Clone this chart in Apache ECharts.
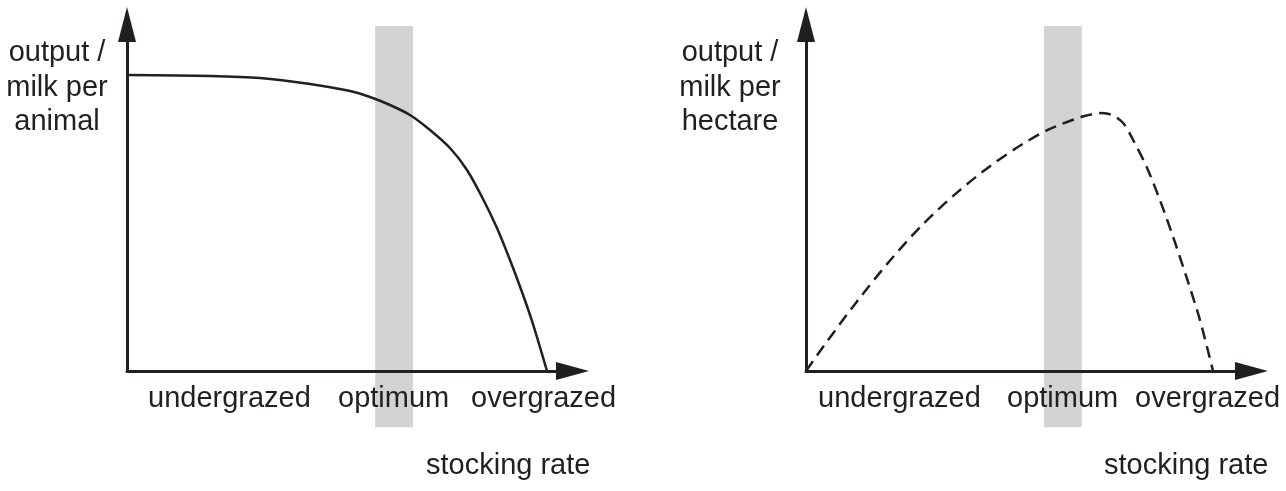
<!DOCTYPE html>
<html>
<head>
<meta charset="utf-8">
<title>stocking rate</title>
<script src="https://cdn.jsdelivr.net/npm/echarts@6/dist/echarts.min.js"></script>
<style>
    html, body { margin: 0; padding: 0; background: #fff; }
    #main { width: 1286px; height: 491px; }
</style>
</head>
<body>
<div id="main"></div>
<script>
// 数据（x: stocking rate 0-100, y: output 0-100）
const perAnimalX = [0, 18.63, 29.85, 41.08, 50.06, 54.55, 59.03, 63.52, 68.01, 72.50, 76.32, 79.91, 83.05, 85.97, 88.66, 91.13, 94.28];
const perAnimalY = [85.43, 85.14, 84.56, 82.83, 80.81, 79.08, 76.77, 73.88, 69.55, 64.36, 58.01, 49.64, 41.27, 32.03, 22.80, 13.56, 0];

const perHectareX = [0, 3.82, 11.45, 18.86, 26.26, 33.89, 41.30, 48.71, 54.77, 61.95, 64.20, 65.99, 67.79, 69.58, 71.38, 73.40, 76.54, 79.46, 82.38, 85.52, 88.44, 91.36];
const perHectareY = [0, 6.93, 20.09, 31.89, 42.37, 51.49, 59.11, 65.57, 69.87, 73.39, 74.08, 74.43, 74.23, 73.30, 71.28, 66.75, 58.67, 49.29, 38.79, 26.67, 14.66, 0];

// 最优区间（灰色带）: [x0, x1, y0, y1]
const optimumLeft = [55.7, 64.2, -16.2, 99.6];
const optimumRight = [53.4, 61.9, -16.2, 99.6];

// 文本
const zoneLabels = ['undergrazed', 'optimum', 'overgrazed'];
const xTitle = 'stocking rate';
const yTitleLeft = ['output /', 'milk per', 'animal'];
const yTitleRight = ['output /', 'milk per', 'hectare'];

const INK = '#231f20';
const BAND = '#d1d3d4';
const FONT = '"Liberation Sans", Arial, Helvetica, sans-serif';

function zip(xs, ys) {
    return xs.map((x, i) => [x, ys[i]]);
}

function axisCommon(symbolSize) {
    return {
        type: 'value',
        min: 0,
        max: 100,
        z: 3,
        axisLine: {
            show: true,
            symbol: ['none', 'triangle'],
            symbolSize: symbolSize,
            lineStyle: { color: INK, width: 3 }
        },
        axisTick: { show: false },
        axisLabel: { show: false },
        splitLine: { show: false }
    };
}

function bandSeries(index, band) {
    return {
        type: 'custom',
        xAxisIndex: index,
        yAxisIndex: index,
        clip: false,
        silent: true,
        z: 1,
        encode: { x: [0, 1], y: [2, 3] },
        data: [band],
        renderItem: function (params, api) {
            const p0 = api.coord([api.value(0), api.value(3)]);
            const p1 = api.coord([api.value(1), api.value(2)]);
            return {
                type: 'rect',
                shape: { x: p0[0], y: p0[1], width: p1[0] - p0[0], height: p1[1] - p0[1] },
                style: { fill: BAND }
            };
        }
    };
}

function text(str, x, y, align) {
    return {
        type: 'text',
        x: x,
        y: y,
        z: 10,
        style: {
            text: str,
            font: '29px ' + FONT,
            fill: INK,
            align: align || 'left',
            verticalAlign: 'middle'
        }
    };
}

// 标签位置
const zoneLeftX = [[148, 338, 471], [818, 1007, 1135]];
const titleX = [426, 1104];
const yTitleCenterX = [57, 730];
const yTitleY = [53, 88, 122];

const graphics = [];
[0, 1].forEach(p => {
    zoneLabels.forEach((s, i) => graphics.push(text(s, zoneLeftX[p][i], 399)));
    graphics.push(text(xTitle, titleX[p], 466));
    const lines = p === 0 ? yTitleLeft : yTitleRight;
    lines.forEach((s, i) => graphics.push(text(s, yTitleCenterX[p], yTitleY[i], 'center')));
});

const myChart = echarts.init(document.getElementById('main'), null, { renderer: 'canvas' });

const option = {
    animation: false,
    backgroundColor: '#ffffff',
    grid: [
        { left: 127, top: 24.5, width: 445.5, height: 346.5 },
        { left: 806, top: 24.5, width: 445.5, height: 346.5 }
    ],
    xAxis: [
        Object.assign(axisCommon([18, 33]), { gridIndex: 0 }),
        Object.assign(axisCommon([18, 33]), { gridIndex: 1 })
    ],
    yAxis: [
        Object.assign(axisCommon([18, 35]), { gridIndex: 0 }),
        Object.assign(axisCommon([18, 35]), { gridIndex: 1 })
    ],
    series: [
        bandSeries(0, optimumLeft),
        bandSeries(1, optimumRight),
        {
            type: 'line',
            xAxisIndex: 0,
            yAxisIndex: 0,
            data: zip(perAnimalX, perAnimalY),
            showSymbol: false,
            smooth: 0.3,
            z: 2,
            lineStyle: { color: INK, width: 2.5 }
        },
        {
            type: 'line',
            xAxisIndex: 1,
            yAxisIndex: 1,
            data: zip(perHectareX, perHectareY),
            showSymbol: false,
            smooth: 0.3,
            z: 2,
            lineStyle: { color: INK, width: 2.5, type: [12, 7] }
        }
    ],
    graphic: graphics
};

myChart.setOption(option);
</script>
</body>
</html>
